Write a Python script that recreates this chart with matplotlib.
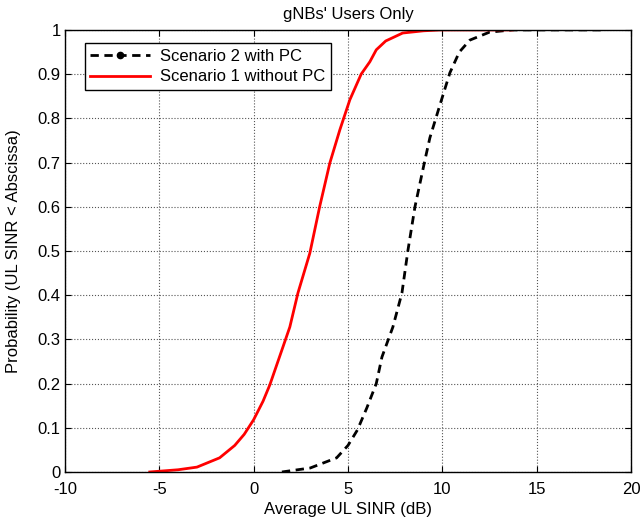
import matplotlib
matplotlib.use("Agg")
import matplotlib.pyplot as plt
from matplotlib.lines import Line2D

plt.rcParams['font.family'] = ['Liberation Sans', 'DejaVu Sans']
plt.rcParams['axes.unicode_minus'] = False

# Scenario 1 without PC (red)
red_x = [-5.5, -4.0, -3.0, -1.8, -1.0, -0.5, 0.0, 0.5, 0.86, 1.5, 1.92, 2.35, 2.98, 3.5, 4.04, 4.57, 5.1, 5.7, 6.16, 6.5, 7.0, 7.9, 9.0, 9.9, 13.7]
red_y = [0.0, 0.005, 0.011, 0.032, 0.06, 0.085, 0.118, 0.16, 0.197, 0.276, 0.328, 0.405, 0.495, 0.6, 0.699, 0.774, 0.842, 0.9, 0.928, 0.955, 0.975, 0.993, 0.998, 1.0, 1.0]

# Scenario 2 with PC (black dashed)
blk_x = [1.5, 3.0, 4.4, 5.0, 5.5, 6.0, 6.5, 6.8, 7.38, 7.86, 8.18, 8.55, 9.08, 9.34, 9.87, 10.4, 10.9, 11.46, 12.5, 13.7, 18.6]
blk_y = [0.0, 0.009, 0.032, 0.06, 0.095, 0.145, 0.2, 0.26, 0.328, 0.405, 0.502, 0.6, 0.706, 0.756, 0.83, 0.903, 0.95, 0.977, 0.995, 1.0, 1.0]

x_ticks = [-10, -5, 0, 5, 10, 15, 20]
y_ticks = [0, 0.1, 0.2, 0.3, 0.4, 0.5, 0.6, 0.7, 0.8, 0.9, 1]
y_labels = ['0', '0.1', '0.2', '0.3', '0.4', '0.5', '0.6', '0.7', '0.8', '0.9', '1']

fig = plt.figure(figsize=(6.42, 5.25), dpi=100)
ax = fig.add_axes([0.101, 0.101, 0.882, 0.842])

ax.plot(blk_x, blk_y, color='black', linestyle=(0, (3, 2)), linewidth=2)
ax.plot(red_x, red_y, color='red', linestyle='-', linewidth=2)

ax.set_xlim(-10, 20)
ax.set_ylim(0, 1)
ax.set_xticks(x_ticks)
ax.set_yticks(y_ticks)
ax.set_yticklabels(y_labels)
ax.tick_params(direction='in', top=True, right=True, labelsize=12, length=4, width=0.8)
ax.tick_params(axis='x', pad=7)
ax.tick_params(axis='y', pad=3)
ax.grid(True, linestyle=':', color='#555555', linewidth=0.8)
for s in ax.spines.values():
    s.set_linewidth(1.0)

ax.set_xlabel('Average UL SINR (dB)', fontsize=12, labelpad=4)
ax.set_ylabel('Probability (UL SINR < Abscissa)', fontsize=12, labelpad=12)
ax.set_title("gNBs' Users Only", fontsize=12, pad=8)

handles = [
    Line2D([0], [0], color='black', linestyle=(0, (3, 2)), linewidth=2, marker='.', markersize=9),
    Line2D([0], [0], color='red', linestyle='-', linewidth=2),
]
leg = ax.legend(handles, ['Scenario 2 with PC', 'Scenario 1 without PC'], loc='upper left',
                bbox_to_anchor=(0.02, 0.99), fontsize=12, fancybox=False, framealpha=1,
                edgecolor='black', handlelength=3.6, borderpad=0.35, labelspacing=0.35,
                handletextpad=0.6)
leg.get_frame().set_linewidth(1.0)

fig.savefig('out.png', dpi=100)
